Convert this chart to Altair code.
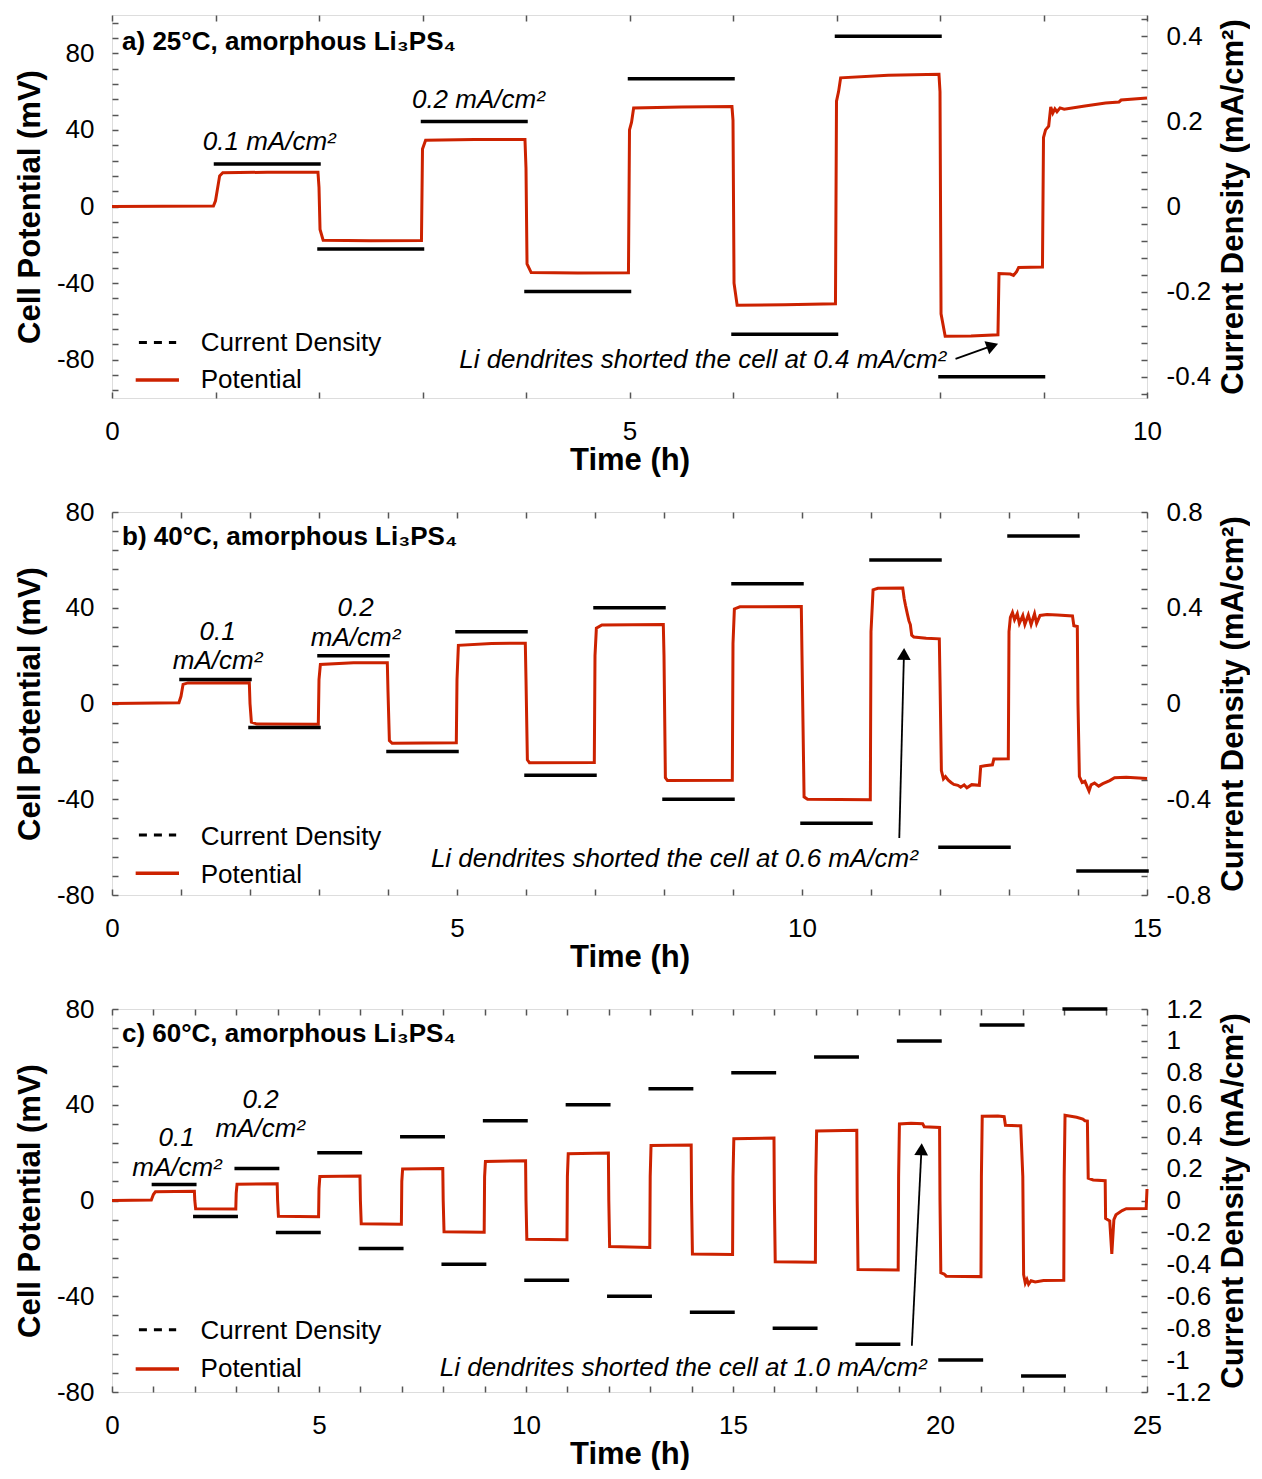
import json
import altair as alt
import pandas as pd

FONT = "Liberation Sans"
RED = "#cc2200"
FRAME = "#555555"
PW, PH = 1035, 383

# ---------------- Panel a: 25 C ----------------
a_potential = [(0, 0), (0.98, 0.2), (1.0, 3), (1.04, 16), (1.07, 17.6), (1.5, 17.9), (1.99, 17.9),
               (2.0, 10), (2.01, -12), (2.04, -17.6), (2.5, -17.9), (2.99, -17.8),
               (3.0, 30), (3.03, 34.6), (3.5, 35), (3.99, 35),
               (4.0, 20), (4.01, -30), (4.05, -34.5), (4.5, -34.7), (4.99, -34.6),
               (5.0, 40), (5.02, 44), (5.04, 51.4), (5.5, 52), (5.99, 52.2),
               (6.0, 45), (6.01, -40), (6.04, -51.6), (6.5, -51.3), (6.99, -50.8),
               (7.0, 55), (7.02, 60), (7.04, 67.2), (7.5, 68.5), (7.99, 69),
               (8.0, 60), (8.01, -56), (8.05, -67.8), (8.3, -67.6), (8.56, -67),
               (8.57, -35), (8.68, -35.3), (8.71, -36), (8.74, -34), (8.76, -31.8), (8.99, -31.6),
               (9.0, 36), (9.02, 40), (9.05, 42), (9.07, 52), (9.09, 48.8), (9.11, 51), (9.13, 49.5),
               (9.16, 51.5), (9.2, 50.8), (9.4, 52.5), (9.6, 54), (9.73, 54.6), (9.75, 55.6), (10.0, 56.6)]
a_cd_start = [1, 2, 3, 4, 5, 6, 7, 8]
a_cd_end = [2, 3, 4, 5, 6, 7, 8, 9]
a_cd_value = [0.1, -0.1, 0.2, -0.2, 0.3, -0.3, 0.4, -0.4]

# ---------------- Panel b: 40 C ----------------
b_potential = [(0, 0), (0.97, 0.3), (1.0, 3), (1.03, 8), (1.1, 8.6), (1.99, 8.7),
               (2.0, 0), (2.02, -7.8), (2.1, -8.6), (2.99, -8.7),
               (3.0, 10), (3.02, 16.3), (3.5, 17), (3.99, 17),
               (4.0, 5), (4.02, -15.5), (4.06, -16.6), (4.99, -16.4),
               (5.0, 10), (5.02, 24.3), (5.5, 25.1), (5.99, 25.2),
               (6.0, 10), (6.02, -23.5), (6.05, -24.7), (6.99, -24.6),
               (7.0, 20), (7.02, 31.5), (7.1, 32.8), (7.99, 33),
               (8.0, 20), (8.02, -31), (8.05, -32.2), (8.99, -32.1),
               (9.0, 25), (9.02, 39.5), (9.1, 40.4), (9.99, 40.5),
               (10.0, 20), (10.03, -39), (10.08, -40), (10.99, -40.2),
               (11.0, 30), (11.03, 47.5), (11.1, 48.1), (11.46, 48.2), (11.48, 44), (11.5, 41),
               (11.53, 37), (11.55, 34.5), (11.57, 33), (11.59, 28.5), (11.62, 27.8), (11.8, 27.3), (11.99, 27),
               (12.0, 10), (12.02, -28), (12.05, -31.5), (12.08, -30.5), (12.12, -32), (12.16, -33),
               (12.2, -33.8), (12.26, -34.2), (12.3, -35), (12.35, -34), (12.39, -35.2), (12.46, -33.9),
               (12.57, -34.2), (12.59, -26.3), (12.65, -26), (12.76, -25.6), (12.78, -23.2), (12.99, -23.1),
               (13.0, 30), (13.02, 36), (13.05, 38), (13.08, 35), (13.12, 37.5), (13.15, 33.5), (13.2, 36.8),
               (13.23, 33), (13.28, 37), (13.32, 33), (13.37, 37.5), (13.4, 33.5), (13.45, 36.8),
               (13.55, 37.2), (13.7, 37), (13.92, 36.6), (13.94, 32.5), (13.99, 32.2),
               (14.0, 0), (14.02, -30.5), (14.06, -33), (14.1, -32.5), (14.16, -36.6), (14.19, -34),
               (14.24, -33.2), (14.3, -34.5), (14.36, -33.5), (14.46, -32.2), (14.53, -31), (14.7, -30.8), (15.0, -31.3)]
b_cd_start = [1, 2, 3, 4, 5, 6, 7, 8, 9, 10, 11, 12, 13, 14]
b_cd_end = [2, 3, 4, 5, 6, 7, 8, 9, 10, 11, 12, 13, 14, 15]
b_cd_value = [0.1, -0.1, 0.2, -0.2, 0.3, -0.3, 0.4, -0.4, 0.5, -0.5, 0.6, -0.6, 0.7, -0.7]

# ---------------- Panel c: 60 C ----------------
c_potential = [(0, 0), (0.95, 0.2), (1.0, 2.5), (1.05, 3.7), (1.99, 3.9),
               (2.0, 0), (2.02, -3.4), (2.99, -3.5), (3.0, 3), (3.02, 6.8), (3.99, 7),
               (4.0, 0), (4.02, -6.6), (4.99, -6.8), (5.0, 5), (5.02, 10), (5.99, 10.2),
               (6.0, 0), (6.02, -9.7), (6.99, -9.9), (7.0, 8), (7.02, 13.2), (7.99, 13.4),
               (8.0, 0), (8.02, -13.1), (8.99, -13.3), (9.0, 10), (9.02, 16.3), (9.99, 16.6),
               (10.0, 0), (10.02, -16.2), (10.99, -16.4), (11.0, 10), (11.02, 19.5), (11.99, 19.8),
               (12.0, 0), (12.02, -19.2), (12.99, -19.6), (13.0, 10), (13.02, 23), (13.99, 23.2),
               (14.0, 0), (14.02, -22.4), (14.99, -22.6), (15.0, 10), (15.02, 25.8), (15.99, 26.1),
               (16.0, 0), (16.02, -25.6), (16.99, -25.8), (17.0, 10), (17.02, 29), (17.99, 29.3),
               (18.0, 0), (18.02, -28.8), (18.99, -29), (19.0, 10), (19.02, 32), (19.3, 32.3),
               (19.58, 32.1), (19.62, 30.8), (19.99, 30.5),
               (20.0, 0), (20.02, -30.2), (20.1, -30.7), (20.15, -31.6), (20.99, -31.8),
               (21.0, 10), (21.02, 35.2), (21.4, 35.3), (21.55, 35), (21.58, 31.4), (21.95, 31.2),
               (22.0, 10), (22.02, -31), (22.06, -34.5), (22.1, -33), (22.14, -35), (22.2, -33.5),
               (22.3, -34), (22.5, -33.4), (22.99, -33.3),
               (23.0, 10), (23.02, 35.6), (23.3, 34.8), (23.45, 34), (23.5, 33.3), (23.56, 33.2),
               (23.58, 9.3), (23.7, 8.6), (23.99, 8.3),
               (24.0, -7.5), (24.1, -8.5), (24.15, -22.3), (24.2, -8), (24.25, -6), (24.4, -4.2),
               (24.5, -3.4), (24.98, -3.3), (25.0, 4.8)]
c_cd_start = [1, 2, 3, 4, 5, 6, 7, 8, 9, 10, 11, 12, 13, 14, 15, 16, 17, 18, 19, 20, 21, 22, 23]
c_cd_end = [2, 3, 4, 5, 6, 7, 8, 9, 10, 11, 12, 13, 14, 15, 16, 17, 18, 19, 20, 21, 22, 23, 24]
c_cd_value = [0.1, -0.1, 0.2, -0.2, 0.3, -0.3, 0.4, -0.4, 0.5, -0.5, 0.6, -0.6, 0.7, -0.7,
              0.8, -0.8, 0.9, -0.9, 1.0, -1.0, 1.1, -1.1, 1.2]

# ---------------- axis labels ----------------
a_x_labels = [0, 5, 10]
b_x_labels = [0, 5, 10, 15]
c_x_labels = [0, 5, 10, 15, 20, 25]
a_y_labels = [-80, -40, 0, 40, 80]
bc_y_labels = [-80, -40, 0, 40, 80]
a_y2_labels = [-0.4, -0.2, 0, 0.2, 0.4]
b_y2_labels = [-0.8, -0.4, 0, 0.4, 0.8]
c_y2_labels = [-1.2, -1, -0.8, -0.6, -0.4, -0.2, 0, 0.2, 0.4, 0.6, 0.8, 1, 1.2]

# ---------------- annotations ----------------
a_title = ["a) 25°C, amorphous Li₃PS₄"]
b_title = ["b) 40°C, amorphous Li₃PS₄"]
c_title = ["c) 60°C, amorphous Li₃PS₄"]
a_rate_text = ["0.1 mA/cm²", "0.2 mA/cm²"]
a_rate_x = [1.52, 3.54]
a_rate_y = [29.6, 51.4]
b_rate_text = ["0.1", "mA/cm²", "0.2", "mA/cm²"]
b_rate_x = [1.53, 1.53, 3.53, 3.53]
b_rate_y = [26.5, 14.4, 36.5, 24.1]
c_rate_text = ["0.1", "mA/cm²", "0.2", "mA/cm²"]
c_rate_x = [1.56, 1.57, 3.59, 3.58]
c_rate_y = [22.6, 10.4, 38.5, 26.4]
a_short = ["Li dendrites shorted the cell at 0.4 mA/cm²"]
b_short = ["Li dendrites shorted the cell at 0.6 mA/cm²"]
c_short = ["Li dendrites shorted the cell at 1.0 mA/cm²"]
legend_labels = ["Current Density", "Potential"]

LABEL_FS = 26
TITLE_FS = 31
NOTE_FS = 26


def has_label(label_list):
    return "indexof(%s, datum.value) >= 0" % json.dumps(label_list)


def make_axis(label_list=None, **kw):
    base = dict(labelFont=FONT, titleFont=FONT, titleFontSize=TITLE_FS,
                titleFontWeight="bold", labelColor="black", titleColor="black",
                tickColor=FRAME, tickWidth=1.5, tickSize=6, offset=-6, domain=False,
                grid=False, labelOverlap=False, labelFlush=False, labelBound=False)
    if label_list is not None:
        base["labelExpr"] = "%s ? '' + datum.value : ''" % has_label(label_list)
        base["labelFontSize"] = {"condition": {"test": has_label(label_list), "value": LABEL_FS},
                                 "value": 1}
    base.update(kw)
    return alt.Axis(**base)


def panel(pot, cd_s, cd_e, cd_v, xmax, ydom, yticks, ylabels, y2dom, y2ticks, y2labels,
          xlabels, title, title_xy, rate_text, rate_x, rate_y, short, short_xy,
          arrow, head_angle, head_frac, leg):
    xs = alt.Scale(domain=[0, xmax], nice=False, zero=False)
    ys = alt.Scale(domain=ydom, nice=False, zero=False)
    y2s = alt.Scale(domain=y2dom, nice=False, zero=False)
    xticks = list(range(0, xmax + 1))

    def xa(f):
        return alt.X(f, scale=xs, axis=None)

    def ya(f):
        return alt.Y(f, scale=ys, axis=None)

    df_pot = pd.DataFrame(pot, columns=["t", "v"])
    pot_line = alt.Chart(df_pot).mark_line(color=RED, strokeWidth=3).encode(
        x=alt.X("t:Q", scale=xs, axis=make_axis(
            label_list=xlabels, orient="bottom", title="Time (h)", values=xticks,
            labelPadding=20, titlePadding=1)),
        y=alt.Y("v:Q", scale=ys, axis=make_axis(
            label_list=ylabels, orient="left", title="Cell Potential (mV)", values=yticks,
            labelPadding=18, titlePadding=10)),
    )

    # legend
    df_leg_dash = pd.DataFrame({"x1": [leg["dash_x"][0]], "x2": [leg["dash_x"][1]], "y": [leg["dash_y"]]})
    df_leg_red = pd.DataFrame({"x1": [leg["red_x"][0]], "x2": [leg["red_x"][1]], "y": [leg["red_y"]]})
    df_leg_txt = pd.DataFrame({"label": legend_labels, "x": [leg["text_x"]] * 2, "y": leg["text_y"]})
    leg_dash = alt.Chart(df_leg_dash).mark_rule(color="black", strokeWidth=3, strokeDash=[8, 7]).encode(
        x=xa("x1:Q"), x2="x2:Q", y=ya("y:Q"))
    leg_red = alt.Chart(df_leg_red).mark_rule(color=RED, strokeWidth=3.5).encode(
        x=xa("x1:Q"), x2="x2:Q", y=ya("y:Q"))
    leg_txt = alt.Chart(df_leg_txt).mark_text(
        font=FONT, fontSize=NOTE_FS, align="left", baseline="alphabetic", color="black").encode(
        x=xa("x:Q"), y=ya("y:Q"), text="label:N")

    df_title = pd.DataFrame({"label": title, "x": [title_xy[0]], "y": [title_xy[1]]})
    title_txt = alt.Chart(df_title).mark_text(
        font=FONT, fontSize=26, fontWeight="bold", align="left", baseline="alphabetic",
        color="black").encode(x=xa("x:Q"), y=ya("y:Q"), text="label:N")

    df_rate = pd.DataFrame({"label": rate_text, "x": rate_x, "y": rate_y})
    rate_txt = alt.Chart(df_rate).mark_text(
        font=FONT, fontSize=NOTE_FS, fontStyle="italic", align="center", baseline="alphabetic",
        color="black").encode(x=xa("x:Q"), y=ya("y:Q"), text="label:N")

    df_short = pd.DataFrame({"label": short, "x": [short_xy[0]], "y": [short_xy[1]]})
    short_txt = alt.Chart(df_short).mark_text(
        font=FONT, fontSize=NOTE_FS, fontStyle="italic", align="right", baseline="alphabetic",
        color="black").encode(x=xa("x:Q"), y=ya("y:Q"), text="label:N")

    (bx, by), (tx, ty) = arrow
    df_shaft = pd.DataFrame({"x1": [bx], "y1": [by], "x2": [tx - (tx - bx) * head_frac * 1.2],
                             "y2": [ty - (ty - by) * head_frac * 1.2]})
    shaft = alt.Chart(df_shaft).mark_rule(color="black", strokeWidth=1.8).encode(
        x=xa("x1:Q"), y=ya("y1:Q"), x2="x2:Q", y2="y2:Q")
    df_head = pd.DataFrame({"x": [tx - (tx - bx) * head_frac], "y": [ty - (ty - by) * head_frac]})
    head = alt.Chart(df_head).mark_point(
        shape="triangle-up", filled=True, size=190, color="black", opacity=1,
        angle=head_angle).encode(x=xa("x:Q"), y=ya("y:Q"))

    df_cd = pd.DataFrame({"s": cd_s, "e": cd_e, "c": cd_v})
    cd = alt.Chart(df_cd).mark_rule(color="black", strokeWidth=3.5, strokeCap="square").encode(
        x=alt.X("s:Q", scale=xs, axis=make_axis(orient="top", title=None, labels=False, values=xticks)),
        x2="e:Q",
        y=alt.Y("c:Q", scale=y2s, axis=make_axis(
            label_list=y2labels, orient="right", title="Current Density (mA/cm²)", values=y2ticks,
            labelPadding=19, titlePadding=8, titleAngle=270, titleBaseline="top")),
    )

    return alt.layer(pot_line, leg_dash, leg_red, leg_txt, title_txt, rate_txt, short_txt,
                     shaft, head, cd).resolve_scale(y="independent").resolve_axis(
        x="independent").properties(width=PW, height=PH)


a_y2_ticks = [round(-0.44 + 0.04 * i, 2) for i in range(23)]
b_y2_ticks = [round(-0.8 + 0.08 * i, 2) for i in range(21)]
c_y2_ticks = [round(-1.2 + 0.1 * i, 2) for i in range(25)]

pa = panel(a_potential, a_cd_start, a_cd_end, a_cd_value, 10, [-100, 100], list(range(-96, 97, 8)),
           a_y_labels, [-0.45, 0.45], a_y2_ticks, a_y2_labels, a_x_labels,
           a_title, (0.097, 81.7), a_rate_text, a_rate_x, a_rate_y, a_short, (8.06, -84.5),
           ((8.15, -79.6), (8.57, -71.5)), 70, 0.15,
           dict(dash_x=(0.26, 0.62), dash_y=-71, red_x=(0.229, 0.647), red_y=-90.6,
                text_x=0.857, text_y=[-75.5, -95]))

pb = panel(b_potential, b_cd_start, b_cd_end, b_cd_value, 15, [-80, 80], list(range(-80, 81, 8)),
           bc_y_labels, [-0.8, 0.8], b_y2_ticks, b_y2_labels, b_x_labels,
           b_title, (0.145, 66.2), b_rate_text, b_rate_x, b_rate_y, b_short, (11.68, -68.2),
           ((11.41, -56.2), (11.48, 23.7)), 1.5, 0.037,
           dict(dash_x=(0.39, 0.93), dash_y=-54.9, red_x=(0.343, 0.971), red_y=-70.9,
                text_x=1.286, text_y=[-59.1, -75.1]))

pc = panel(c_potential, c_cd_start, c_cd_end, c_cd_value, 25, [-80, 80], list(range(-80, 81, 8)),
           bc_y_labels, [-1.2, 1.2], c_y2_ticks, c_y2_labels, c_x_labels,
           c_title, (0.24, 66.1), c_rate_text, c_rate_x, c_rate_y, c_short, (19.68, -73.4),
           ((19.32, -60.7), (19.56, 24.3)), 2.7, 0.034,
           dict(dash_x=(0.65, 1.55), dash_y=-54, red_x=(0.572, 1.618), red_y=-70.4,
                text_x=2.14, text_y=[-57.9, -73.9]))

chart = alt.vconcat(pa, pb, pc, spacing=22).properties(
    padding={"left": 5, "top": 5, "right": 0, "bottom": 0}
).configure_view(stroke=FRAME, strokeWidth=2).configure(background="white")

chart.save("out.html", embed_options={"renderer": "svg", "actions": False})
